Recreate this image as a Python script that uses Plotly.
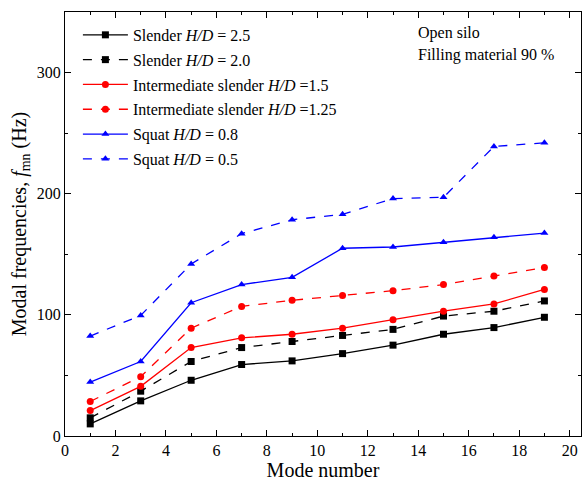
import plotly.graph_objects as go

modes = [1, 3, 5, 7, 9, 11, 13, 15, 17, 19]
slender_25 = [10, 29, 46, 59, 62, 68, 75, 84, 89.5, 98]
slender_20 = [15, 37, 61.5, 73, 78, 83, 88, 99, 103, 111.5]
inter_15 = [21, 41, 73, 81, 84, 89, 96, 103, 109, 121]
inter_125 = [28.5, 49, 89, 107, 112, 116, 120, 125, 132, 139]
squat_08 = [44.5, 61.5, 110, 125, 131, 155, 156, 160, 164, 167.5]
squat_05 = [82.5, 99.5, 142, 167, 178.5, 183, 196, 197, 239, 242]

series = [
    ("Slender <i>H/D</i> = 2.5", slender_25, "black", "solid", "square"),
    ("Slender <i>H/D</i> = 2.0", slender_20, "black", "dash", "square"),
    ("Intermediate slender <i>H/D</i> =1.5", inter_15, "red", "solid", "circle"),
    ("Intermediate slender <i>H/D</i> =1.25", inter_125, "red", "dash", "circle"),
    ("Squat <i>H/D</i> = 0.8", squat_08, "blue", "solid", "triangle-up"),
    ("Squat <i>H/D</i> = 0.5", squat_05, "blue", "dash", "triangle-up"),
]

fig = go.Figure()
for i, (name, ys, col, dash, sym) in enumerate(series):
    fig.add_trace(go.Scatter(
        x=modes, y=ys, name=name, mode="lines+markers", legendgroup=f"g{i}",
        line=dict(color=col, width=1.3, dash=dash),
        marker=dict(symbol=sym, size=7, color=col),
    ))

font = "Liberation Serif, Times New Roman, serif"
axis_common = dict(
    showline=True, linecolor="black", linewidth=1.2, mirror="ticks",
    ticks="inside", ticklen=6, tickcolor="black", tickwidth=1,
    showgrid=False, zeroline=False,
    tickfont=dict(family=font, size=16, color="black"),
)
fig.update_xaxes(range=[0, 20.45], dtick=2, tick0=0,
                 minor=dict(dtick=1, ticks="inside", ticklen=3, tickcolor="black"),
                 title=dict(text="Mode number", font=dict(family=font, size=20, color="black"), standoff=4),
                 **axis_common)
fig.update_yaxes(range=[0, 350], dtick=100, tick0=0,
                 minor=dict(dtick=50, ticks="inside", ticklen=3, tickcolor="black"),
                 title=dict(text="Modal frequencies, <i>f</i><sub>mn</sub> (Hz)",
                            font=dict(family=font, size=20, color="black"), standoff=4),
                 **axis_common)

fig.add_annotation(x=0.68, y=0.95, xref="paper", yref="paper", xanchor="left", yanchor="middle",
                   text="Open silo", showarrow=False, font=dict(family=font, size=16, color="black"))
fig.add_annotation(x=0.68, y=0.898, xref="paper", yref="paper", xanchor="left", yanchor="middle",
                   text="Filling material 90 %", showarrow=False, font=dict(family=font, size=16, color="black"))

fig.update_layout(
    width=584, height=482,
    margin=dict(l=65, r=3, t=12, b=46),
    paper_bgcolor="white", plot_bgcolor="white",
    font=dict(family=font, size=16, color="black"),
    showlegend=True,
    legend=dict(x=0.025, y=0.986, xanchor="left", yanchor="top", bgcolor="rgba(0,0,0,0)",
                font=dict(family=font, size=16, color="black"), tracegroupgap=1, itemwidth=45),
)

fig.write_html("out.html")
